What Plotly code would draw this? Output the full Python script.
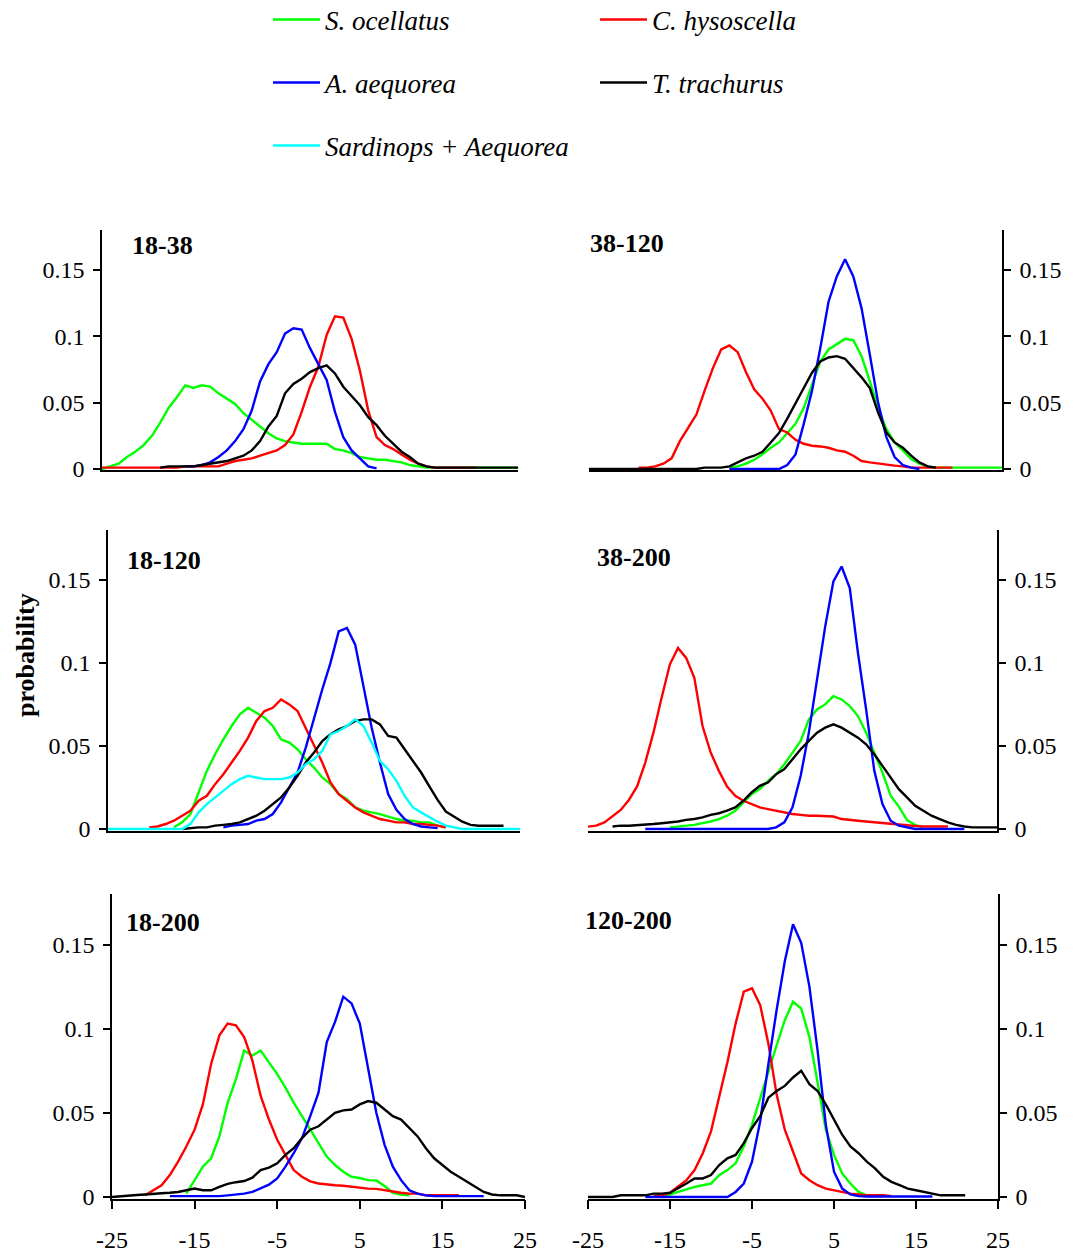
import plotly.graph_objects as go

W, H = 1075, 1257

# ---------------- data (x = difference, -25 .. 25 step 1) ----------------
X = list(range(-25, 26))
X_TICKS = [-25, -15, -5, 5, 15, 25]
X_TICKTEXT = ["-25", "-15", "-5", "5", "15", "25"]
Y_TICKS = [0, 0.05, 0.1, 0.15]
Y_TICKTEXT = ["0", "0.05", "0.1", "0.15"]

SPECIES = ["S. ocellatus", "C. hysoscella", "A. aequorea", "T. trachurus", "Sardinops + Aequorea"]
COLORS = ["#00ff00", "#ff0000", "#0000ff", "#000000", "#00ffff"]
PANEL_LABELS = ["18-38", "38-120", "18-120", "38-200", "18-200", "120-200"]

# panel 18-38
A_green = [0, .002, .004, .009, .013, .018, .025, .035, .046, .054,
           .063, .061, .063, .062, .057, .053, .049, .042, .037, .032,
           .027, .023, .021, .020, .019, .019, .019, .019, .015, .014,
           .012, .009, .008, .007, .007, .006, .005, .003, .002, .001,
           .001, .001, .001, .001, .001, .001, .001, .001, .001, .001,
           .001]
A_red = [.001, .001, .001, .001, .001, .001, .001, .001, .001, .001,
         .002, .002, .002, .002, .002, .004, .006, .007, .008, .010,
         .012, .014, .018, .026, .043, .062, .077, .101, .115, .114,
         .098, .074, .044, .024, .018, .015, .011, .007, .004, .002,
         .001, .001, .001, .001, .001, .001, None, None, None, None,
         None]
A_blue = [None, None, None, None, None, None, None, None, None, None,
          .002, .002, .003, .005, .009, .014, .021, .030, .044, .066,
          .079, .088, .102, .106, .105, .091, .079, .067, .043, .024,
          .014, .0076, .002, .0005, None, None, None, None, None, None,
          None, None, None, None, None, None, None, None, None, None,
          None]
A_black = [None, None, None, None, None, None, None, .001, .002, .002,
           .002, .002, .003, .004, .005, .006, .008, .010, .014, .021,
           .032, .040, .057, .064, .068, .073, .076, .078, .072, .062,
           .055, .048, .039, .033, .025, .019, .013, .009, .004, .002,
           .001, .001, .001, .001, .001, .001, .001, .001, .001, .001,
           .001]

# panel 38-120
B_green = [None, None, None, None, None, None, None, None, None, None,
           None, None, None, None, None, None, None, .001, .002, .004,
           .007, .011, .016, .020, .027, .034, .046, .064, .081, .090,
           .094, .098, .097, .085, .066, .046, .030, .020, .014, .0075,
           .004, .002, .001, .001, .001, .001, .001, .001, .001, .001,
           .001]
B_red = [None, None, None, None, None, None, .001, .001, .002, .004,
         .008, .021, .031, .041, .059, .076, .090, .093, .088, .073,
         .060, .053, .044, .030, .0275, .022, .019, .0175, .017, .016,
         .014, .013, .010, .006, .005, .004, .003, .0025, .002, .001,
         .001, .001, .001, .001, .001, None, None, None, None, None,
         None]
B_blue = [None, None, None, None, None, None, None, None, None, None,
          None, None, None, None, None, None, None, 0, 0, 0,
          0, 0, 0, 0, .003, .011, .034, .059, .091, .126,
          .145, .158, .145, .121, .086, .050, .024, .009, .003, .001,
          0, None, None, None, None, None, None, None, None, None,
          None]
B_black = [0, 0, 0, 0, 0, 0, 0, 0, 0, 0,
           0, 0, 0, 0, .001, .001, .001, .002, .005, .008,
           .010, .013, .020, .027, .038, .050, .061, .0725, .081, .084,
           .085, .083, .076, .069, .061, .0425, .0275, .020, .016, .010,
           .005, .002, .001, None, None, None, None, None, None, None,
           None]

# panel 18-120
C_green = [None, None, None, None, None, None, None, None, .001, .004,
           .009, .022, .035, .045, .054, .062, .069, .073, .070, .067,
           .062, .054, .052, .048, .042, .037, .031, .027, .021, .018,
           .013, .011, .010, .009, .0075, .006, .005, .005, .004, .004,
           .002, .001, None, None, None, None, None, None, None, None,
           None]
C_red = [None, None, None, None, None, .001, .0015, .003, .005, .008,
         .011, .017, .020, .027, .033, .040, .047, .055, .065, .071,
         .073, .078, .075, .071, .061, .050, .040, .028, .021, .017,
         .013, .010, .008, .006, .005, .004, .004, .003, .003, .0025,
         .002, .001, None, None, None, None, None, None, None, None,
         None]
C_blue = [None, None, None, None, None, None, None, None, None, None,
          None, None, None, None, .001, .002, .0025, .003, .005, .006,
          .009, .016, .025, .034, .049, .067, .084, .100, .119, .121,
          .111, .086, .061, .040, .021, .0115, .006, .003, .0015, .001,
          .0005, None, None, None, None, None, None, None, None, None,
          None]
C_black = [None, None, None, None, None, None, None, None, None, 0,
           .0005, .001, .001, .002, .0025, .003, .004, .006, .008, .011,
           .015, .019, .025, .032, .040, .046, .053, .057, .060, .062,
           .065, .066, .066, .063, .056, .055, .048, .041, .034, .0256,
           .0175, .0105, .0075, .0044, .0025, .002, .002, .002, .002, None,
           None]
C_cyan = [0, 0, 0, 0, 0, 0, 0, 0, 0, 0,
          .003, .010, .015, .019, .023, .027, .030, .032, .031, .030,
          .030, .030, .031, .034, .039, .042, .047, .057, .059, .062,
          .066, .062, .052, .041, .036, .029, .020, .013, .010, .007,
          .0044, .002, .001, 0, 0, 0, 0, 0, 0, 0,
          0]

# panel 38-200
D_green = [None, None, None, None, None, None, None, None, None, None,
           .001, .0015, .002, .0025, .0035, .0045, .006, .008, .011, .016,
           .021, .024, .029, .033, .039, .046, .053, .066, .072, .075,
           .080, .078, .074, .068, .058, .046, .034, .020, .0135, .0054,
           .0024, .001, None, None, None, None, None, None, None, None,
           None]
D_red = [.0014, .002, .004, .008, .0115, .0175, .0256, .040, .058, .079,
         .099, .109, .103, .091, .062, .046, .035, .0256, .020, .017,
         .015, .013, .012, .011, .010, .009, .0085, .008, .008, .0078,
         .0075, .006, .0053, .005, .0045, .004, .0035, .003, .0025, .002,
         .0018, .0015, .0015, .0015, .0015, None, None, None, None, None,
         None]
D_blue = [None, None, None, None, None, None, None, 0, 0, 0,
          0, 0, 0, 0, 0, 0, 0, 0, 0, 0,
          0, 0, 0, .001, .004, .013, .032, .058, .090, .122,
          .149, .158, .145, .106, .072, .035, .015, .005, .002, .001,
          0, 0, 0, 0, 0, 0, 0, None, None, None,
          None]
D_black = [None, None, None, .0015, .002, .002, .0022, .0025, .003, .0035,
           .004, .0045, .0055, .006, .007, .0085, .0095, .011, .013, .017,
           .022, .026, .028, .033, .036, .042, .048, .053, .058, .061,
           .063, .061, .058, .055, .051, .045, .038, .031, .024, .019,
           .014, .011, .008, .006, .004, .0025, .0015, .001, .001, .001,
           .001]

# panel 18-200
E_green = [None, None, None, None, None, None, None, None, None, .002,
           .010, .018, .023, .036, .056, .070, .087, .084, .087, .080,
           .073, .065, .056, .048, .040, .032, .024, .019, .015, .012,
           .0113, .010, .0098, .0065, .0025, .0015, .001, None, None, None,
           None, None, None, None, None, None, None, None, None, None,
           None]
E_red = [None, None, None, None, .001, .004, .007, .013, .021, .030,
         .040, .055, .079, .096, .103, .102, .095, .081, .060, .046,
         .034, .025, .016, .012, .0093, .008, .0073, .007, .0067, .006,
         .0055, .005, .0048, .004, .003, .0025, .002, .002, .001, .001,
         .001, .001, .001, None, None, None, None, None, None, None,
         None]
E_blue = [None, None, None, None, None, None, None, .0005, .0005, .0005,
          .0005, .0005, .0005, .0005, .001, .0015, .002, .003, .005, .0073,
          .011, .018, .026, .035, .048, .062, .092, .104, .119, .115,
          .103, .077, .050, .031, .018, .010, .004, .002, .001, .0005,
          .0005, .0005, .0005, .0005, .0005, .0005, None, None, None, None,
          None]
E_black = [0, .0005, .001, .0012, .0015, .002, .0022, .0025, .003, .004,
           .005, .004, .004, .006, .0078, .0088, .0095, .0115, .016, .0175,
           .020, .025, .029, .035, .040, .042, .046, .050, .0515, .052,
           .055, .057, .056, .052, .048, .046, .041, .036, .029, .023,
           .019, .015, .012, .009, .0063, .003, .0015, .001, .001, .001,
           0]

# panel 120-200
F_green = [None, None, None, None, None, None, None, None, .0005, .001,
           .0015, .003, .0045, .006, .007, .008, .013, .016, .020, .030,
           .043, .059, .075, .090, .105, .116, .112, .095, .068, .040,
           .025, .014, .008, .003, .001, None, None, None, None, None,
           None, None, None, None, None, None, None, None, None, None,
           None]
F_red = [None, None, None, None, None, None, None, None, .0005, .001,
         .0025, .006, .010, .016, .026, .039, .060, .080, .103, .122,
         .124, .114, .091, .061, .040, .027, .014, .010, .007, .005,
         .004, .003, .002, .0015, .001, .001, .001, .0005, None, None,
         None, None, None, None, None, None, None, None, None, None,
         None]
F_blue = [None, None, None, None, None, None, None, 0, 0, 0,
          0, 0, 0, 0, 0, 0, 0, 0, .003, .008,
          .021, .045, .079, .111, .140, .162, .151, .125, .087, .043,
          .015, .005, .0015, .0005, .0003, .0003, .0003, .0003, .0003, .0003,
          .0003, .0003, .0003, None, None, None, None, None, None, None,
          None]
F_black = [0, 0, 0, 0, .001, .001, .001, .001, .002, .002,
           .0025, .005, .008, .011, .011, .013, .019, .023, .025, .032,
           .041, .048, .059, .063, .066, .071, .075, .067, .063, .055,
           .046, .037, .030, .026, .021, .017, .012, .009, .007, .005,
           .004, .003, .002, .001, .001, .001, .001, None, None, None,
           None]

PANEL_SERIES = [
    [A_green, A_red, A_blue, A_black, None],
    [B_green, B_red, B_blue, B_black, None],
    [C_green, C_red, C_blue, C_black, C_cyan],
    [D_green, D_red, D_blue, D_black, None],
    [E_green, E_red, E_blue, E_black, None],
    [F_green, F_red, F_blue, F_black, None],
]

# ---------------- layout geometry (pixels) ----------------
# left, right, top, y=0 pixel, y-axis side
BOXES = [
    (102, 518, 230, 469, "left"),
    (589, 1002, 230, 469, "right"),
    (108, 520, 530, 829, "left"),
    (588, 997, 530, 829, "right"),
    (112, 525, 894, 1197, "left"),
    (588, 998, 894, 1197, "right"),
]
LABEL_POS = [(130, 245), (588, 243), (125, 560), (595, 557), (124, 922), (583, 920)]
YMAX = 0.18
YMIN = -0.001
LEGEND_FOR = ["legend", "legend", "legend2", "legend2", "legend3"]

SERIF = "Liberation Serif"

fig = go.Figure()
shown = set()
layout_axes = {}
annotations = []

for i, (box, series) in enumerate(zip(BOXES, PANEL_SERIES)):
    n = i + 1
    l, r, top, zero, side = box
    scale = (zero - top) / YMAX
    bottom = zero - YMIN * scale
    xd = [l / W, r / W]
    yd = [(H - bottom) / H, (H - top) / H]
    xa = "x" if n == 1 else f"x{n}"
    ya = "y" if n == 1 else f"y{n}"
    bottom_row = i >= 4
    layout_axes["xaxis" if n == 1 else f"xaxis{n}"] = dict(
        domain=xd, range=[-25, 25], anchor=ya, showline=True, linecolor="black",
        linewidth=1.6, showgrid=False, zeroline=False, layer="below traces",
        ticks="outside" if bottom_row else "", ticklen=9, tickwidth=1.6, tickcolor="black",
        tickvals=X_TICKS, ticktext=X_TICKTEXT, showticklabels=bottom_row,
        ticklabelstandoff=10, automargin=False,
        tickfont=dict(family=SERIF, size=24, color="black"), fixedrange=True,
    )
    layout_axes["yaxis" if n == 1 else f"yaxis{n}"] = dict(
        domain=yd, range=[YMIN, YMAX], anchor=xa, side=side, showline=True,
        linecolor="black", linewidth=1.6, showgrid=False, zeroline=False,
        layer="below traces", ticks="outside", ticklen=7, tickwidth=1.6,
        tickcolor="black", tickvals=Y_TICKS, ticktext=Y_TICKTEXT,
        ticklabelstandoff=4, automargin=False,
        tickfont=dict(family=SERIF, size=24, color="black"),
        fixedrange=True,
    )
    for k, vals in enumerate(series):
        if vals is None:
            continue
        sp = SPECIES[k]
        fig.add_trace(go.Scatter(
            x=X, y=vals, mode="lines", name=sp, legendgroup=sp,
            legend=LEGEND_FOR[k], showlegend=sp not in shown,
            line=dict(color=COLORS[k], width=2.4), connectgaps=False,
            xaxis=xa, yaxis=ya, hoverinfo="skip",
        ))
        shown.add(sp)
    lx, ly = LABEL_POS[i]
    annotations.append(dict(
        text=PANEL_LABELS[i], xref=f"{xa} domain", yref=f"{ya} domain",
        x=(lx - l) / (r - l), y=(zero - ly) / (zero - top), xanchor="left",
        yanchor="middle", showarrow=False,
        font=dict(family=SERIF, size=26, color="black", weight="bold"),
    ))

annotations.append(dict(
    text="probability", xref="paper", yref="paper", x=25 / W, y=(H - 655) / H,
    textangle=-90, showarrow=False, xanchor="center", yanchor="middle",
    font=dict(family=SERIF, size=26, color="black", weight="bold"),
))

leg_common = dict(
    orientation="h", xanchor="left", yanchor="middle", x=268 / W,
    font=dict(family=SERIF, size=27, color="black", style="italic"),
    entrywidth=265, entrywidthmode="pixels", itemwidth=47,
    bgcolor="rgba(0,0,0,0)", borderwidth=0,
)

fig.update_layout(
    width=W, height=H, margin=dict(l=0, r=0, t=0, b=0, autoexpand=False),
    paper_bgcolor="white", plot_bgcolor="white",
    annotations=annotations,
    legend=dict(leg_common, y=(H - 20) / H),
    legend2=dict(leg_common, y=(H - 83) / H),
    legend3=dict(leg_common, y=(H - 146) / H),
    **layout_axes,
)

fig.write_html("out.html")
